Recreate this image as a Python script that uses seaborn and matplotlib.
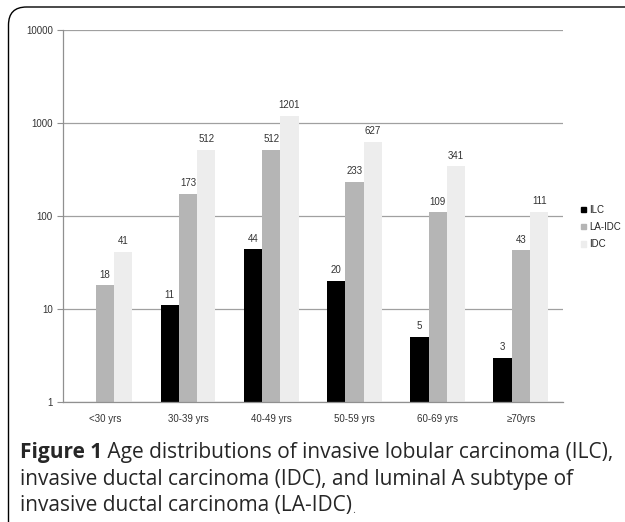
import numpy as np
import pandas as pd
import matplotlib
matplotlib.use("Agg")
import matplotlib.pyplot as plt
import matplotlib.patches as mpatches
import seaborn as sns

# data
age_groups = ["<30 yrs", "30-39 yrs", "40-49 yrs", "50-59 yrs", "60-69 yrs", "\u226570yrs"]
series = ["ILC", "LA-IDC", "IDC"]
ilc = [np.nan, 11, 44, 20, 5, 3]
la_idc = [18, 173, 512, 233, 109, 43]
idc = [41, 512, 1201, 627, 341, 111]
yticks = [1, 10, 100, 1000, 10000]
colors = ["#000000", "#b5b5b5", "#ededed"]

df = pd.DataFrame({
    "age": age_groups * 3,
    "type": [s for s in series for _ in age_groups],
    "n": ilc + la_idc + idc,
})

sns.set_style("white")
plt.rcParams["font.family"] = ["Liberation Sans", "DejaVu Sans"]

fig = plt.figure(figsize=(6.25, 5.22), dpi=100)
ax = fig.add_axes([0.101, 0.230, 0.799, 0.7125])

sns.barplot(data=df, x="age", y="n", hue="type", order=age_groups,
            hue_order=series, palette=colors, width=0.66, gap=0,
            saturation=1, legend=False, ax=ax, linewidth=0, errorbar=None)

ax.set_yscale("log")
ax.set_ylim(1, 10000)
ax.set_xlim(-0.5, len(age_groups) - 0.5)
ax.set_yticks(yticks)
ax.set_yticklabels([str(v) for v in yticks])
ax.yaxis.set_minor_locator(matplotlib.ticker.NullLocator())
ax.grid(axis="y", color="#a0a0a0", linewidth=0.9)
ax.set_axisbelow(True)
for s in ["top", "right"]:
    ax.spines[s].set_visible(False)
for s in ["left", "bottom"]:
    ax.spines[s].set_color("#909090")
    ax.spines[s].set_linewidth(0.9)

ax.set_xticks(np.arange(len(age_groups) + 1) - 0.5, minor=True)
ax.tick_params(axis="x", which="major", length=0, labelsize=7, labelcolor="#333333", pad=9)
ax.tick_params(axis="x", which="minor", length=4, color="#909090", direction="out")
ax.tick_params(axis="y", which="major", length=4, color="#909090", direction="out",
               labelsize=7, labelcolor="#333333", left=True)
ax.set_xlabel("")
ax.set_ylabel("")

for cont in ax.containers:
    ax.bar_label(cont, fmt="%d", padding=4, fontsize=7, color="#333333")

handles = [mpatches.Patch(color=c, label=s) for s, c in zip(series, colors)]
ax.legend(handles=handles, loc="center left", bbox_to_anchor=(1.02, 0.47),
          frameon=False, fontsize=7, handlelength=0.5, handleheight=0.5,
          handletextpad=0.3, labelspacing=0.75)

# caption
cap_font = ["Open Sans", "DejaVu Sans"]
cap_size = 15
t1 = fig.text(20 / 625, 1 - 458 / 522, "Figure 1", fontsize=cap_size, fontweight="bold",
              family=cap_font, va="baseline")
ax.annotate(" Age distributions of invasive lobular carcinoma (ILC),", xy=(1, 0),
            xycoords=t1, va="bottom", ha="left", fontsize=cap_size, family=cap_font,
            annotation_clip=False)
fig.text(20 / 625, 1 - 485 / 522, "invasive ductal carcinoma (IDC), and luminal A subtype of",
         fontsize=cap_size, family=cap_font, va="baseline")
t3 = fig.text(20 / 625, 1 - 511 / 522, "invasive ductal carcinoma (LA-IDC)",
              fontsize=cap_size, family=cap_font, va="baseline")
ax.annotate(".", xy=(1, 0), xycoords=t3, va="bottom", ha="left", fontsize=8,
            color="#555555", family=cap_font, annotation_clip=False)

# frame with rounded top-left corner
frame = mpatches.FancyBboxPatch((0.085, -0.5), 7.0, 5.65,
                                boxstyle="round,pad=0,rounding_size=0.18",
                                transform=fig.dpi_scale_trans, fill=False,
                                edgecolor="black", linewidth=1.0)
frame.set_clip_on(False)
fig.add_artist(frame)

fig.savefig("out.png", dpi=100)
